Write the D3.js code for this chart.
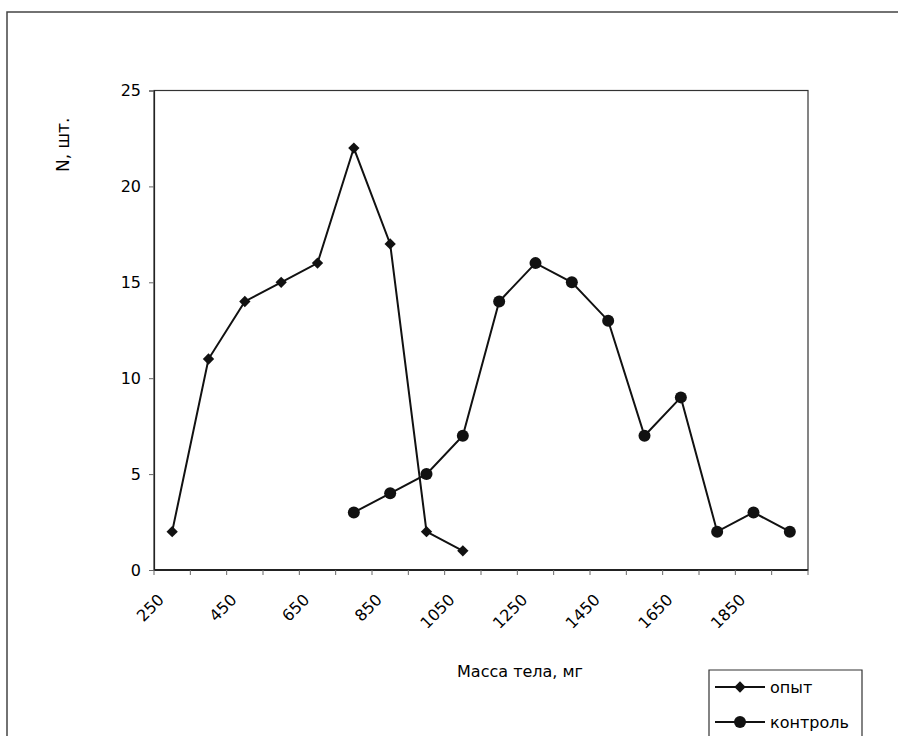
<!DOCTYPE html>
<html><head><meta charset="utf-8">
<script src="https://cdn.jsdelivr.net/npm/d3@7"></script>
<style>body{margin:0;background:#fff}text{font-family:"DejaVu Sans",Verdana,sans-serif;fill:#000}</style>
</head><body><svg id="c" width="902" height="736"></svg>
<script>
const categories = [250,350,450,550,650,750,850,950,1050,1150,1250,1350,1450,1550,1650,1750,1850,1950];
const tickLabels = [250,450,650,850,1050,1250,1450,1650,1850];
const opytX = [250,350,450,550,650,750,850,950,1050];
const opytY = [2,11,14,15,16,22,17,2,1];
const controlX = [750,850,950,1050,1150,1250,1350,1450,1550,1650,1750,1850,1950];
const controlY = [3,4,5,7,14,16,15,13,7,9,2,3,2];
const yTicks = [0,5,10,15,20,25];

const svg = d3.select("#c");
const L=154, R=808, T=90.5, B=570;
const x = d3.scaleBand().domain(categories).range([L,R]).padding(0);
const y = d3.scaleLinear().domain([0,25]).range([B,T]);
const cx = v => x(v) + x.bandwidth()/2;

// outer frame
svg.append("path").attr("d","M7,736 L7,12 L898,12").attr("fill","none").attr("stroke","#444").attr("stroke-width",1.5);

// plot box
svg.append("rect").attr("x",L).attr("y",T).attr("width",R-L).attr("height",B-T)
  .attr("fill","none").attr("stroke","#333").attr("stroke-width",1.2);

// y axis
const ya = svg.append("g").attr("transform",`translate(${L},0)`)
  .call(d3.axisLeft(y).tickValues(yTicks).tickSize(5).tickPadding(8));
ya.select(".domain").attr("stroke","#222").attr("stroke-width",1.2);
ya.selectAll("text").style("font-size","16px").attr("fill","#000");
ya.selectAll("line").attr("stroke","#666");

// x axis
const xa = svg.append("g").attr("transform",`translate(0,${B})`);
xa.append("line").attr("x1",L).attr("x2",R).attr("stroke","#222").attr("stroke-width",1.8);
xa.selectAll("line.t").data(categories.concat(["end"])).enter().append("line").attr("class","t")
  .attr("x1",(d,i)=>L+i*x.bandwidth()).attr("x2",(d,i)=>L+i*x.bandwidth())
  .attr("y1",0).attr("y2",5).attr("stroke","#666");
xa.selectAll("text").data(tickLabels).enter().append("text")
  .attr("transform",d=>`translate(${cx(d)-11},${27}) rotate(-45)`)
  .attr("text-anchor","end").attr("dominant-baseline","central")
  .style("font-size","16px").text(d=>d);

// titles
svg.append("text").attr("transform","translate(69,172) rotate(-90)").attr("text-anchor","start")
  .style("font-size","17px").text("N, шт.");
svg.append("text").attr("x",520).attr("y",677).attr("text-anchor","middle")
  .style("font-size","16px").text("Масса тела, мг");

// lines
const line = d3.line().x(d=>cx(d[0])).y(d=>y(d[1]));
const opyt = opytX.map((v,i)=>[v,opytY[i]]);
const ctrl = controlX.map((v,i)=>[v,controlY[i]]);
svg.append("path").datum(opyt).attr("d",line).attr("fill","none").attr("stroke","#111").attr("stroke-width",2);
svg.append("path").datum(ctrl).attr("d",line).attr("fill","none").attr("stroke","#111").attr("stroke-width",2);
svg.selectAll("path.d").data(opyt).enter().append("path").attr("class","d")
  .attr("d",d3.symbol().type(d3.symbolSquare).size(64))
  .attr("transform",d=>`translate(${cx(d[0])},${y(d[1])}) rotate(45)`).attr("fill","#111");
svg.selectAll("circle.c").data(ctrl).enter().append("circle").attr("class","c")
  .attr("cx",d=>cx(d[0])).attr("cy",d=>y(d[1])).attr("r",6).attr("fill","#111");

// legend
const lg = svg.append("g");
lg.append("path").attr("d","M709,736 L709,670 L862,670 L862,736").attr("fill","none").attr("stroke","#333").attr("stroke-width",1.2);
const legendItems = [{name:"опыт",type:"d",yy:687},{name:"контроль",type:"c",yy:722}];
legendItems.forEach(it=>{
  lg.append("line").attr("x1",715).attr("x2",765).attr("y1",it.yy).attr("y2",it.yy).attr("stroke","#111").attr("stroke-width",2);
  if(it.type==="d") lg.append("path").attr("d",d3.symbol().type(d3.symbolSquare).size(64)).attr("transform",`translate(740,${it.yy}) rotate(45)`).attr("fill","#111");
  else lg.append("circle").attr("cx",740).attr("cy",it.yy).attr("r",6).attr("fill","#111");
  lg.append("text").attr("x",770).attr("y",it.yy).attr("dominant-baseline","central").style("font-size","16px").text(it.name);
});
</script></body></html>
